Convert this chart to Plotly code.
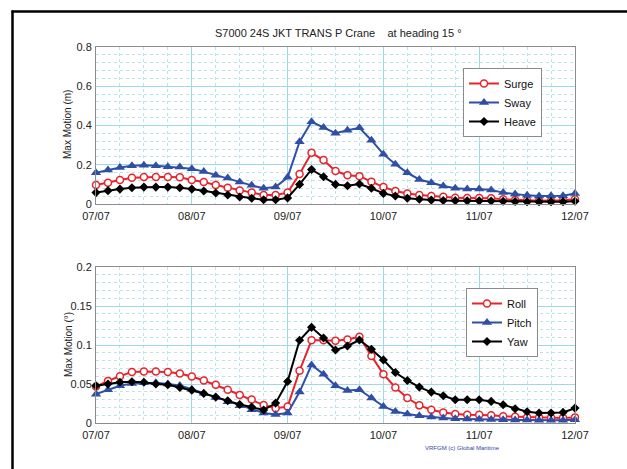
import plotly.graph_objects as go

# ---------------- data ----------------
day_labels = ["07/07", "08/07", "09/07", "10/07", "11/07", "12/07"]
# sample times in days since 07/07 (3-hourly)
t = [i / 8 for i in range(41)]

surge = [0.097, 0.108, 0.122, 0.134, 0.137, 0.137, 0.137, 0.136, 0.122, 0.112,
         0.097, 0.083, 0.069, 0.058, 0.046, 0.046, 0.058, 0.153, 0.261, 0.224,
         0.168, 0.147, 0.142, 0.114, 0.086, 0.066, 0.054, 0.046, 0.041, 0.037,
         0.032, 0.031, 0.031, 0.029, 0.024, 0.020, 0.019, 0.017, 0.017, 0.019,
         0.024]
sway = [0.159, 0.173, 0.186, 0.195, 0.197, 0.195, 0.190, 0.188, 0.180, 0.165,
        0.147, 0.132, 0.112, 0.095, 0.080, 0.086, 0.136, 0.317, 0.419, 0.390,
        0.361, 0.376, 0.388, 0.325, 0.254, 0.203, 0.159, 0.125, 0.108, 0.092,
        0.080, 0.076, 0.076, 0.071, 0.058, 0.051, 0.044, 0.041, 0.042, 0.042,
        0.054]
heave = [0.058, 0.068, 0.076, 0.083, 0.086, 0.086, 0.086, 0.083, 0.076, 0.066,
         0.056, 0.046, 0.036, 0.029, 0.022, 0.022, 0.031, 0.100, 0.176, 0.139,
         0.100, 0.093, 0.102, 0.080, 0.054, 0.041, 0.029, 0.024, 0.020, 0.018,
         0.017, 0.016, 0.016, 0.015, 0.014, 0.013, 0.012, 0.012, 0.012, 0.012,
         0.014]

roll = [0.0468, 0.054, 0.060, 0.0655, 0.066, 0.066, 0.0655, 0.0634, 0.0596, 0.0545,
        0.049, 0.0426, 0.036, 0.030, 0.023, 0.019, 0.021, 0.067, 0.106, 0.106,
        0.1055, 0.107, 0.1106, 0.086, 0.0626, 0.0455, 0.032, 0.0226, 0.017, 0.0136,
        0.0115, 0.0106, 0.0106, 0.0098, 0.0085, 0.008, 0.0072, 0.0066, 0.0066, 0.0064,
        0.0072]
pitch = [0.037, 0.0426, 0.0477, 0.0506, 0.0515, 0.0515, 0.050, 0.048, 0.0434, 0.0383,
         0.0328, 0.0272, 0.0221, 0.017, 0.0128, 0.011, 0.0128, 0.0396, 0.0745, 0.0626,
         0.0477, 0.0417, 0.0426, 0.032, 0.0213, 0.0149, 0.0115, 0.0094, 0.0077, 0.0064,
         0.0055, 0.005, 0.0048, 0.0045, 0.0042, 0.004, 0.0038, 0.0036, 0.0035, 0.0034,
         0.0043]
yaw = [0.0477, 0.050, 0.0523, 0.0528, 0.0523, 0.050, 0.049, 0.0455, 0.0421, 0.0379,
       0.0332, 0.0285, 0.0238, 0.0204, 0.0166, 0.0255, 0.0532, 0.106, 0.1226, 0.109,
       0.0936, 0.0987, 0.1064, 0.0945, 0.0809, 0.0647, 0.0545, 0.046, 0.0396, 0.0349,
       0.0298, 0.0298, 0.0298, 0.0277, 0.0234, 0.0183, 0.0145, 0.0128, 0.0128, 0.0136,
       0.0191]

top_ticks = [0, 0.2, 0.4, 0.6, 0.8]
top_ticktext = ["0", "0.2", "0.4", "0.6", "0.8"]
bot_ticks = [0, 0.05, 0.1, 0.15, 0.2]
bot_ticktext = ["0", "0.05", "0.1", "0.15", "0.2"]

# ---------------- styles ----------------
RED = "#e8232b"
BLUE = "#2f4ea6"
BLACK = "#000000"
FONT = "Liberation Sans, Arial, sans-serif"
W, H = 627, 469

def px_x(p):
    return p / W

def px_y(p):
    return 1 - p / H

fig = go.Figure()

def add(x, y, name, color, symbol, xa, ya, legend, msize=7, mline=None):
    fig.add_trace(go.Scatter(
        x=x, y=y, name=name, mode="lines+markers",
        line=dict(color=color, width=2),
        marker=dict(symbol=symbol, size=msize, color=color if mline is None else "white",
                    line=dict(color=color, width=1.5 if mline else 0)),
        xaxis=xa, yaxis=ya, legend=legend, cliponaxis=False,
    ))

add(t, surge, "Surge", RED, "circle", "x", "y", "legend", msize=7, mline=True)
add(t, sway, "Sway", BLUE, "triangle-up", "x", "y", "legend", msize=9)
add(t, heave, "Heave", BLACK, "diamond", "x", "y", "legend", msize=7)
add(t, roll, "Roll", RED, "circle", "x2", "y2", "legend2", msize=7, mline=True)
add(t, pitch, "Pitch", BLUE, "triangle-up", "x2", "y2", "legend2", msize=9)
add(t, yaw, "Yaw", BLACK, "diamond", "x2", "y2", "legend2", msize=7)

MAJ = "#9fd9e3"
MIN = "#b9e4ec"
xcommon = dict(
    range=[0, 5], tickvals=list(range(6)), ticktext=day_labels,
    showgrid=True, gridcolor=MAJ, gridwidth=1,
    minor=dict(dtick=0.25, showgrid=True, gridcolor=MIN, griddash="dot", gridwidth=1),
    showline=True, linecolor="#8c8c8c", linewidth=1, mirror=True,
    zeroline=False, ticks="", tickfont=dict(family=FONT, size=11, color="#222"),
    ticklabelstandoff=2,
    automargin=False, fixedrange=True,
)
ycommon = dict(
    showgrid=True, gridcolor=MAJ, gridwidth=1,
    showline=True, linecolor="#8c8c8c", linewidth=1, mirror=True,
    zeroline=False, ticks="", tickfont=dict(family=FONT, size=11, color="#222"),
    ticklabelstandoff=1,
    automargin=False, fixedrange=True,
)

x0, x1 = px_x(96), px_x(575)
fig.update_layout(
    width=W, height=H,
    margin=dict(l=0, r=0, t=0, b=0, autoexpand=False),
    paper_bgcolor="white", plot_bgcolor="white",
    xaxis=dict(domain=[x0, x1], anchor="y", **xcommon),
    yaxis=dict(domain=[px_y(204), px_y(47)], anchor="x", range=[0, 0.8],
               tickvals=top_ticks, ticktext=top_ticktext,
               minor=dict(dtick=0.04, showgrid=True, gridcolor=MIN, griddash="dot"),
               **ycommon),
    xaxis2=dict(domain=[x0, x1], anchor="y2", **xcommon),
    yaxis2=dict(domain=[px_y(423), px_y(267)], anchor="x2", range=[0, 0.2],
                tickvals=bot_ticks, ticktext=bot_ticktext,
                minor=dict(dtick=0.01, showgrid=True, gridcolor=MIN, griddash="dot"),
                **ycommon),
    legend=dict(x=px_x(463), y=px_y(68), xanchor="left", yanchor="top",
                bgcolor="white", bordercolor="#8a8a8a", borderwidth=1,
                font=dict(family=FONT, size=11, color="#111"),
                tracegroupgap=0, itemwidth=30),
    legend2=dict(x=px_x(466), y=px_y(288), xanchor="left", yanchor="top",
                 bgcolor="white", bordercolor="#8a8a8a", borderwidth=1,
                 font=dict(family=FONT, size=11, color="#111"),
                 tracegroupgap=0, itemwidth=30),
    showlegend=True,
)

# outer black frame (top and left edges; right/bottom lie outside the image)
fig.add_shape(type="line", xref="paper", yref="paper",
              x0=px_x(11.5), x1=1.0, y0=px_y(11.5), y1=px_y(11.5),
              line=dict(color="black", width=2.5), layer="above")
fig.add_shape(type="line", xref="paper", yref="paper",
              x0=px_x(12.5), x1=px_x(12.5), y0=px_y(10.5), y1=0.0,
              line=dict(color="black", width=2.5), layer="above")

fig.add_annotation(text="S7000 24S JKT TRANS P Crane    at heading 15 °",
                   xref="paper", yref="paper", x=px_x(338), y=px_y(33),
                   xanchor="center", yanchor="middle",
                   showarrow=False, font=dict(family=FONT, size=11, color="#222"))
fig.add_annotation(text="Max Motion (m)", textangle=-90,
                   xref="paper", yref="paper", x=px_x(68), y=px_y(125),
                   xanchor="center", yanchor="middle",
                   showarrow=False, font=dict(family=FONT, size=10, color="#222"))
fig.add_annotation(text="Max Motion (°)", textangle=-90,
                   xref="paper", yref="paper", x=px_x(68), y=px_y(345),
                   xanchor="center", yanchor="middle",
                   showarrow=False, font=dict(family=FONT, size=10, color="#222"))
fig.add_annotation(text="VRFGM (c) Global Maritime",
                   xref="paper", yref="paper", x=px_x(462), y=px_y(448),
                   xanchor="center", yanchor="middle",
                   showarrow=False, font=dict(family=FONT, size=6, color="#3344aa"))

fig.write_html("out.html", config={"displayModeBar": False},
               post_script="document.body.style.margin='0';document.body.style.overflow='hidden';")
